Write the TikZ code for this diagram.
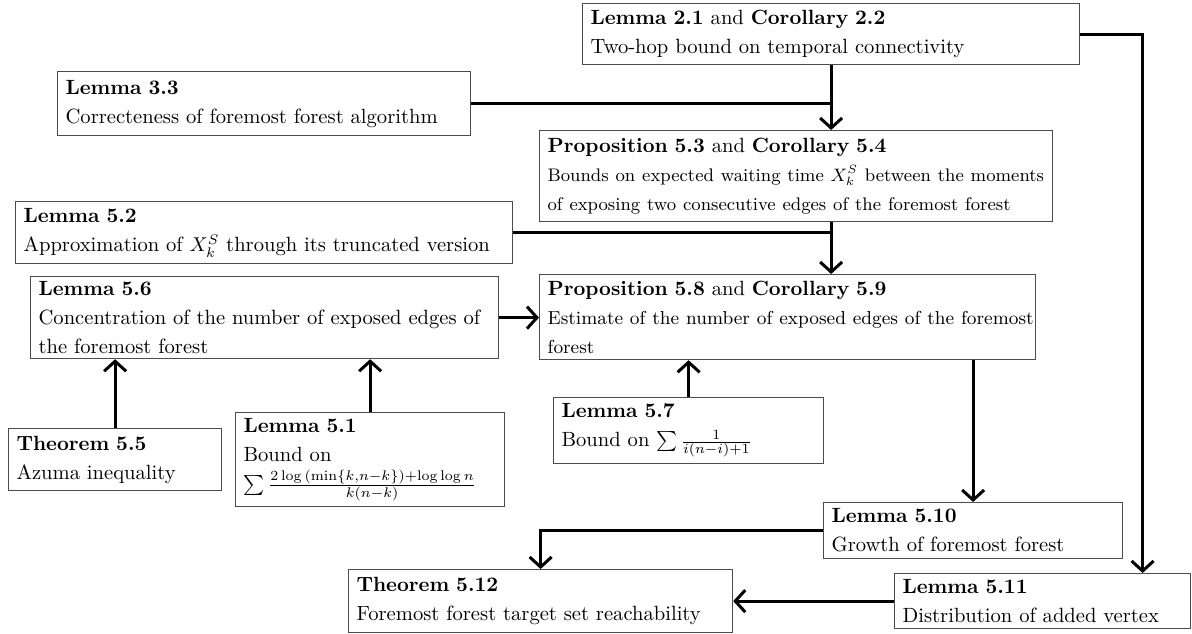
\documentclass[tikz,border=0pt]{standalone}
\usetikzlibrary{arrows.meta}
\definecolor{boxgray}{gray}{0.3}
\newcommand{\bodyline}[2][9.4]{\mbox{\fontsize{#1}{14.5}\selectfont #2}}
\tikzset{
  box/.style={draw=boxgray, line width=0.6pt, anchor=north west, inner xsep=4pt, inner ysep=0pt,
    align=left, font=\fontsize{10.3}{14.5}\selectfont},
  conn/.style={line width=1.5pt, -{Straight Barb[length=5pt,width=11pt,line width=1.5pt]}},
  link/.style={line width=1.5pt},
}
\begin{document}
\begin{tikzpicture}[x=0.5pt,y=-0.5pt]
\useasboundingbox (0,0) rectangle (1192,633);
\node[box, text width=240.5pt, minimum height=30.5pt] (L21) at (582,3)
  {\textbf{Lemma 2.1} and \textbf{Corollary 2.2}\\Two-hop bound on temporal connectivity};
\node[box, text width=198.5pt, minimum height=32pt] (L33) at (57,71)
  {\textbf{Lemma 3.3}\\Correcteness of foremost forest algorithm};
\node[box, text width=248.5pt, minimum height=45.5pt] (P53) at (539,130)
  {\textbf{Proposition 5.3} and \textbf{Corollary 5.4}\\\bodyline[9.1]{Bounds on expected waiting time $X_k^S$ between the moments}\\\bodyline[9.1]{of exposing two consecutive edges of the foremost forest}};
\node[box, text width=240.5pt, minimum height=31pt] (L52) at (15,201)
  {\textbf{Lemma 5.2}\\Approximation of $X_k^S$ through its truncated version};
\node[box, text width=226pt, minimum height=41pt] (L56) at (30,276)
  {\textbf{Lemma 5.6}\\\mbox{Concentration of the number of exposed edges of}\\the foremost forest};
\node[box, text width=240pt, minimum height=42.5pt] (P58) at (539,274)
  {\textbf{Proposition 5.8} and \textbf{Corollary 5.9}\\\bodyline{Estimate of the number of exposed edges of the foremost}\\\bodyline{forest}};
\node[box, text width=98.5pt, minimum height=31pt] (T55) at (8,428)
  {\textbf{Theorem 5.5}\\Azuma inequality};
\node[box, text width=126.5pt, minimum height=47pt] (L51) at (235,412)
  {\textbf{Lemma 5.1}\\Bound on\\$\sum \frac{2\log\,(\min\{k,n-k\})+\log\log n}{k(n-k)}$};
\node[box, text width=127pt, minimum height=33pt] (L57) at (553,397)
  {\textbf{Lemma 5.7}\\Bound on $\sum \frac{1}{i(n-i)+1}$};
\node[box, text width=141.5pt, minimum height=28pt] (L510) at (823,502)
  {\textbf{Lemma 5.10}\\Growth of foremost forest};
\node[box, text width=140pt, minimum height=27.5pt] (L511) at (894,573)
  {\textbf{Lemma 5.11}\\Distribution of added vertex};
\node[box, text width=184pt, minimum height=31.5pt] (T512) at (348,569)
  {\textbf{Theorem 5.12}\\Foremost forest target set reachability};
% connectors
\draw[conn] (L21.east) -| ([xshift=50pt]L511.north);
\draw[conn] (L21.south) -- (L21.south |- P53.north);
\draw[link] (L33.east) -- (L33.east -| L21.south);
\draw[conn] (P53.south -| L21.south) -- (P58.north -| L21.south);
\draw[link] (L52.east) -- (L52.east -| L21.south);
\draw[conn] (L56.east) -- (L56.east -| P58.west);
\draw[conn] (T55.north) -- (T55.north |- L56.south);
\draw[conn] (L51.north) -- (L51.north |- L56.south);
\draw[conn] (L57.north) -- (L57.north |- P58.south);
\draw[conn] (L510.north |- P58.south) -- (L510.north);
\draw[conn] (L510.west) -| (T512.north);
\draw[conn] (L511.west) -- (L511.west -| T512.east);
\end{tikzpicture}
\end{document}
